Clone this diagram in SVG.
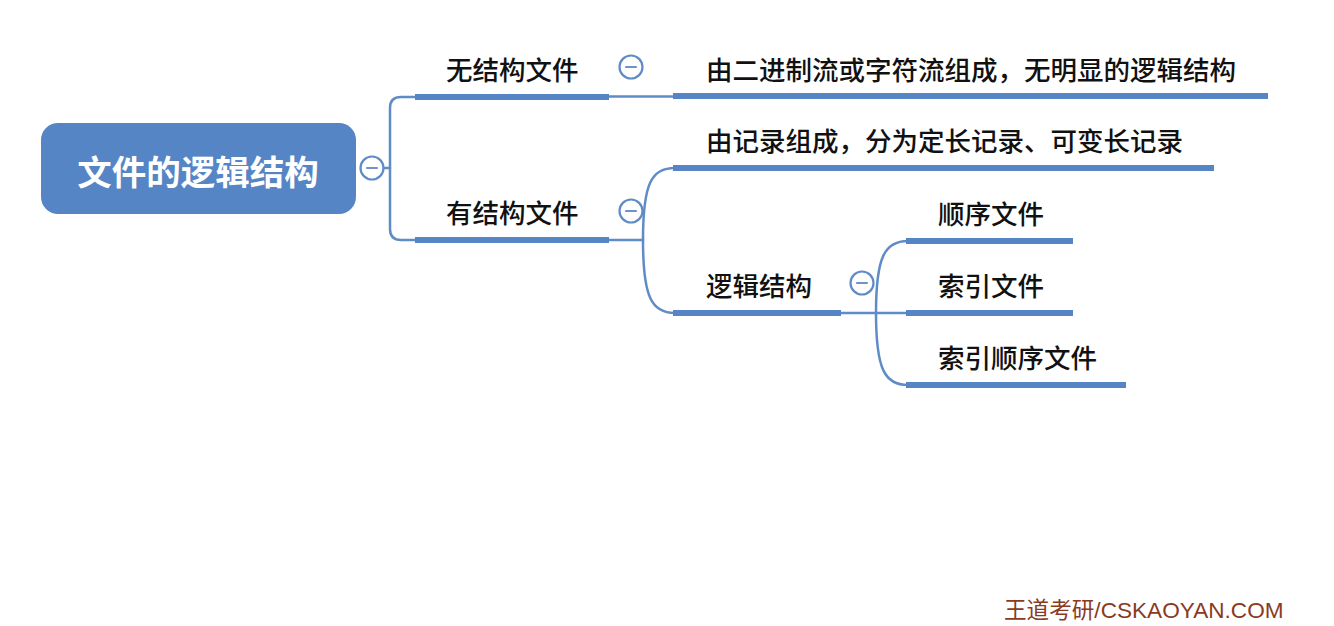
<svg xmlns="http://www.w3.org/2000/svg" width="1334" height="626" viewBox="0 0 1334 626">
<style>
.bar{fill:#5585c5}
.ln{fill:none;stroke:#5f8cc6;stroke-width:2.5;stroke-linecap:round}
.t{font-family:"Noto Sans CJK SC","Liberation Sans",sans-serif;font-size:26.5px;font-weight:500;fill:#111}
.cc{fill:#fff;stroke:#5f8cc6;stroke-width:2.2}
.cm{stroke:#6f93c6;stroke-width:2.2;stroke-linecap:round}
</style>
<defs>
<g id="col"><circle class="cc" r="11.5"/><line class="cm" x1="-5" y1="0" x2="5" y2="0"/></g>
</defs>
<rect width="1334" height="626" fill="#fff"/>
<g id="connectors">
<path class="ln" d="M383,168 H390"/>
<path class="ln" d="M415,97 H401 Q390,97 390,108 V229 Q390,240 401,240 H415"/>
<path class="ln" d="M609,96.5 H673"/>
<path class="ln" d="M609,240 H643"/>
<path class="ln" d="M643,240 C643,182 652,168 675,168"/>
<path class="ln" d="M643,240 C643,298 652,313 675,313"/>
<path class="ln" d="M841,313 H906"/>
<path class="ln" d="M876,313 C876,256 885,241 908,241"/>
<path class="ln" d="M876,313 C876,370 885,385 908,385"/>
</g>
<g id="root">
<rect x="41" y="123" width="315" height="91" rx="17" fill="#5585c5"/>
<text x="198" y="185" text-anchor="middle" font-family="'Noto Sans CJK SC','Liberation Sans',sans-serif" font-size="34.5" font-weight="bold" fill="#fff">文件的逻辑结构</text>
<use href="#col" x="372" y="168"/>
</g>
<g id="n-unstructured">
<rect class="bar" x="415" y="94" width="194" height="6"/>
<text class="t" x="446" y="80">无结构文件</text>
<use href="#col" x="631" y="67"/>
</g>
<g id="n-unstructured-desc">
<rect class="bar" x="673" y="93" width="595" height="6"/>
<text class="t" x="706" y="80">由二进制流或字符流组成，无明显的逻辑结构</text>
</g>
<g id="n-structured">
<rect class="bar" x="415" y="237" width="194" height="6"/>
<text class="t" x="446" y="223">有结构文件</text>
<use href="#col" x="631" y="211"/>
</g>
<g id="n-structured-desc">
<rect class="bar" x="673" y="165" width="541" height="6"/>
<text class="t" x="706" y="151">由记录组成，分为定长记录、可变长记录</text>
</g>
<g id="n-logic">
<rect class="bar" x="673" y="310" width="168" height="6"/>
<text class="t" x="706" y="296">逻辑结构</text>
<use href="#col" x="862" y="283"/>
</g>
<g id="n-seq">
<rect class="bar" x="906" y="238" width="167" height="6"/>
<text class="t" x="938" y="224">顺序文件</text>
</g>
<g id="n-idx">
<rect class="bar" x="906" y="310" width="167" height="6"/>
<text class="t" x="938" y="296">索引文件</text>
</g>
<g id="n-idxseq">
<rect class="bar" x="906" y="382" width="220" height="6"/>
<text class="t" x="938" y="368">索引顺序文件</text>
</g>
<g id="watermark">
<text x="1004" y="618" font-family="'Liberation Sans','Noto Sans CJK SC',sans-serif" font-size="22.6" fill="#8a3b1f">王道考研/CSKAOYAN.COM</text>
</g>
</svg>
